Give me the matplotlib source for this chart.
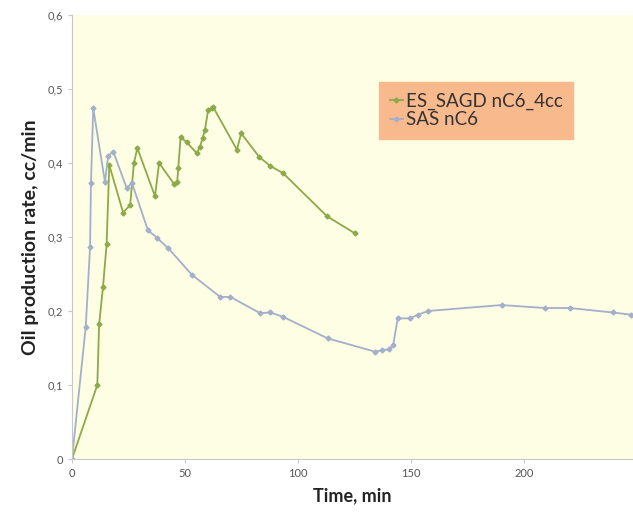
import matplotlib.pyplot as plt
from matplotlib.ticker import FuncFormatter

plt.rcParams['font.family'] = ['Lato', 'DejaVu Sans']

# ES_SAGD nC6_4cc
t_es = [0, 11.2, 12, 13.7, 15.3, 16.5, 22.6, 25.7, 27.4, 28.9, 36.7, 38.5, 45, 46.5,
        47, 48, 50.7, 55.2, 56.6, 57.8, 58.8, 60.2, 61.8, 62.5, 72.9, 74.8, 82.8,
        87.6, 93.4, 112.7, 125]
q_es = [0, 0.1, 0.182, 0.232, 0.29, 0.397, 0.333, 0.343, 0.4, 0.42, 0.355, 0.4, 0.372,
        0.374, 0.393, 0.435, 0.428, 0.413, 0.422, 0.434, 0.445, 0.472, 0.474, 0.475,
        0.418, 0.44, 0.408, 0.396, 0.386, 0.328, 0.305]

# SAS nC6
t_sas = [0, 6.1, 8, 8.4, 9.4, 14.6, 16, 18.3, 24.2, 26.5, 33.6, 37.5, 42.5, 53, 65.5,
         70, 83.2, 87.6, 93.4, 113, 134, 137, 140, 142, 144, 149.5, 153, 157.5, 190,
         209, 220, 239, 247]
q_sas = [0, 0.179, 0.287, 0.373, 0.474, 0.374, 0.41, 0.415, 0.366, 0.373, 0.309, 0.299,
         0.285, 0.249, 0.219, 0.219, 0.197, 0.198, 0.192, 0.163, 0.145, 0.147, 0.148,
         0.154, 0.19, 0.19, 0.195, 0.2, 0.208, 0.204, 0.204, 0.198, 0.195]

fig = plt.figure(figsize=(6.33, 5.14), dpi=100)
ax = fig.add_axes([0.1137, 0.107, 0.8863, 0.864])
ax.set_facecolor('#FEFEE4')

ax.plot(t_es, q_es, color='#8CAA48', lw=1.3, marker='D', ms=2.5, label='ES_SAGD nC6_4cc')
ax.plot(t_sas, q_sas, color='#A3AFCB', lw=1.3, marker='D', ms=2.5, label='SAS nC6')

ax.set_xlim(0, 248)
ax.set_ylim(0, 0.6)
ax.set_xticks([0, 50, 100, 150, 200])
ax.set_yticks([0, 0.1, 0.2, 0.3, 0.4, 0.5, 0.6])
ax.yaxis.set_major_formatter(FuncFormatter(lambda v, p: '0' if v == 0 else f'{v:.1f}'.replace('.', ',')))

for s in ['top', 'right']:
    ax.spines[s].set_visible(False)
for s in ['left', 'bottom']:
    ax.spines[s].set_color('#C8C8C8')
ax.tick_params(colors='#C8C8C8', labelcolor='#555555', labelsize=8, length=3)

ax.set_xlabel('Time, min', fontsize=13, fontweight='bold', color='#222222', labelpad=6)
ax.set_ylabel('Oil production rate, cc/min', fontsize=14, fontweight='bold',
              color='#222222', labelpad=6)

leg = ax.legend(loc='upper left', bbox_to_anchor=(0.548, 0.849), frameon=True,
                fancybox=False, fontsize=13.5, handlelength=0.7, handletextpad=0.15,
                borderpad=0.55, labelspacing=0.1, borderaxespad=0)
leg.get_frame().set_facecolor('#F8B98C')
leg.get_frame().set_edgecolor('#F8B98C')
leg.get_frame().set_alpha(1)
for txt in leg.get_texts():
    txt.set_color('#333333')

plt.savefig('out.png')
